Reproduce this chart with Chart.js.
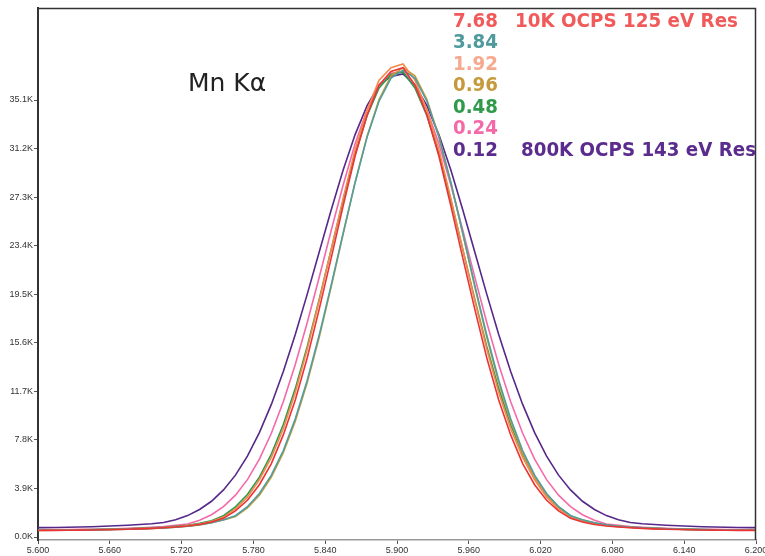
<!DOCTYPE html>
<html><head><meta charset="utf-8">
<script src="https://cdn.jsdelivr.net/npm/chart.js@4.4.1/dist/chart.umd.min.js"></script>
<style>html,body{margin:0;padding:0;background:#fff;}#wrap{width:765px;height:556px;}</style>
</head><body><div id="wrap"><canvas id="c" width="765" height="556"></canvas></div>
<script>
// Energy channels (keV)
const energies = [5.595,5.605,5.615,5.625,5.635,5.645,5.655,5.665,5.675,5.685,5.695,5.705,5.715,5.725,5.735,5.745,5.755,5.765,5.775,5.785,5.795,5.805,5.815,5.825,5.835,5.845,5.855,5.865,5.875,5.885,5.895,5.905,5.915,5.925,5.935,5.945,5.955,5.965,5.975,5.985,5.995,6.005,6.015,6.025,6.035,6.045,6.055,6.065,6.075,6.085,6.095,6.105,6.115,6.125,6.135,6.145,6.155,6.165,6.175,6.185,6.195,6.205];

// Counts (thousands) per series
const counts768 = [0.52,0.53,0.53,0.54,0.55,0.56,0.58,0.6,0.62,0.65,0.69,0.74,0.8,0.88,1.0,1.2,1.5,2.1,2.95,4.2,5.9,8.2,11.0,14.4,18.3,22.4,26.6,30.6,33.9,36.3,37.4,
  37.7,36.3,33.9,30.6,26.6,22.4,18.3,14.4,11.0,8.2,5.9,4.2,2.95,2.1,1.5,1.2,1.0,0.88,0.8,0.74,0.69,0.65,0.62,0.6,0.58,0.56,0.55,0.54,0.53,0.53,0.52];
const counts384 = [0.54,0.54,0.545,0.555,0.565,0.575,0.59,0.61,0.63,0.655,0.69,0.73,0.79,0.87,0.98,1.15,1.38,1.71,2.43,3.49,4.97,6.95,9.49,12.6,16.22,20.23,24.41,28.48,32.12,35.0,36.86,
  37.5,36.86,35.0,32.12,28.48,24.41,20.23,16.22,12.6,9.49,6.95,4.97,3.49,2.43,1.71,1.38,1.15,0.98,0.87,0.79,0.73,0.69,0.655,0.63,0.61,0.59,0.575,0.565,0.555,0.545,0.54];
const counts192 = [0.54,0.54,0.55,0.56,0.57,0.58,0.6,0.62,0.64,0.67,0.71,0.76,0.83,0.92,1.05,1.25,1.6,2.25,3.2,4.6,6.4,8.7,11.6,15.1,19.0,23.1,27.2,31.1,34.3,36.7,37.7,
  38.0,36.7,34.3,31.1,27.2,23.1,19.0,15.1,11.6,8.7,6.4,4.6,3.2,2.25,1.6,1.25,1.05,0.92,0.83,0.76,0.71,0.67,0.64,0.62,0.6,0.58,0.57,0.56,0.55,0.54,0.54];
const counts096 = [0.53,0.535,0.54,0.55,0.56,0.57,0.585,0.6,0.62,0.65,0.68,0.72,0.78,0.86,0.97,1.14,1.36,1.64,2.34,3.36,4.82,6.77,9.3,12.41,16.05,20.1,24.34,28.48,32.19,35.14,37.05,
  37.7,37.05,35.14,32.19,28.48,24.34,20.1,16.05,12.41,9.3,6.77,4.82,3.36,2.34,1.64,1.36,1.14,0.97,0.86,0.78,0.72,0.68,0.65,0.62,0.6,0.585,0.57,0.56,0.55,0.54,0.535];
const counts048 = [0.55,0.55,0.56,0.57,0.58,0.59,0.61,0.63,0.66,0.69,0.73,0.78,0.86,0.95,1.1,1.3,1.71,2.42,3.42,4.81,6.66,9.03,11.92,15.31,19.09,23.08,27.06,30.75,33.84,36.07,37.15,
  37.35,36.07,33.84,30.75,27.06,23.08,19.09,15.31,11.92,9.03,6.66,4.81,3.42,2.42,1.71,1.3,1.1,0.95,0.86,0.78,0.73,0.69,0.66,0.63,0.61,0.59,0.58,0.57,0.56,0.55,0.55];
const counts024 = [0.58,0.58,0.59,0.6,0.61,0.62,0.64,0.66,0.69,0.73,0.78,0.85,0.95,1.04,1.34,1.79,2.44,3.36,4.61,6.25,8.33,10.87,13.85,17.23,20.87,24.62,28.27,31.59,34.33,36.3,37.25,
  37.4,36.3,34.33,31.59,28.27,24.62,20.87,17.23,13.85,10.87,8.33,6.25,4.61,3.36,2.44,1.79,1.34,1.04,0.95,0.85,0.78,0.73,0.69,0.66,0.64,0.62,0.61,0.6,0.59,0.58,0.58];
const counts012 = [0.75,0.75,0.76,0.78,0.8,0.83,0.86,0.9,0.95,1.0,1.06,1.16,1.39,1.72,2.21,2.87,3.78,4.97,6.5,8.38,10.65,13.3,16.27,19.51,22.89,26.27,29.47,32.32,34.65,36.29,37.0,
  37.2,36.29,34.65,32.32,29.47,26.27,22.89,19.51,16.27,13.3,10.65,8.38,6.5,4.97,3.78,2.87,2.21,1.72,1.39,1.16,1.06,1.0,0.95,0.9,0.86,0.83,0.8,0.78,0.76,0.75,0.75];

const seriesRates = ['7.68','3.84','1.92','0.96','0.48','0.24','0.12'];
const seriesNotes = ['10K OCPS 125 eV Res','','','','','','800K OCPS 143 eV Res'];
const seriesCounts = [counts768,counts384,counts192,counts096,counts048,counts024,counts012];
const lineColors = ['#ec3434','#4f9ea2','#f5894c','#c99b3a','#2c9a4a','#f46aa9','#55288a'];
const textColors = ['#f05a5a','#4e9a9c','#f6a98e','#c69a3c','#2f9a4a','#f46aa9','#5b2c8e'];
const yTickValues = [0,3.9,7.8,11.7,15.6,19.5,23.4,27.3,31.2,35.1];
const xTickValues = [5.6,5.66,5.72,5.78,5.84,5.9,5.96,6.02,6.08,6.14,6.2];
const peakLabel = 'Mn K\u03b1';

const datasets = seriesCounts.map((arr, i) => ({
  label: seriesRates[i],
  data: energies.map((e, j) => ({x: e, y: arr[j]})),
  borderColor: lineColors[i],
  borderWidth: 1.6,
  pointRadius: 0,
  tension: 0,
  fill: false
}));

const overlay = {
  id: 'overlay',
  afterDraw(chart) {
    const ctx = chart.ctx, a = chart.chartArea;
    ctx.save();
    ctx.strokeStyle = '#333';
    ctx.lineWidth = 1.5;
    ctx.beginPath();
    ctx.moveTo(a.left, a.top + 0.5);
    ctx.lineTo(a.right - 0.5, a.top + 0.5);
    ctx.lineTo(a.right - 0.5, a.bottom);
    ctx.stroke();
    ctx.fillStyle = '#222';
    ctx.font = '25px "DejaVu Sans"';
    ctx.textBaseline = 'alphabetic';
    ctx.textAlign = 'left';
    ctx.fillText(peakLabel, 188, 91, 82);
    ctx.font = 'bold 20px "DejaVu Sans"';
    ctx.textBaseline = 'middle';
    seriesRates.forEach((r, i) => {
      const y = 21.5 + i * 21.5;
      ctx.fillStyle = textColors[i];
      ctx.fillText(r, 453, y, 45);
      if (seriesNotes[i]) {
        const nx = i === 0 ? 515 : 521;
        const w = i === 0 ? 223 : 235;
        ctx.fillText(seriesNotes[i], nx, y, w);
      }
    });
    ctx.restore();
  }
};

new Chart(document.getElementById('c'), {
  type: 'line',
  data: {datasets},
  options: {
    responsive: false,
    animation: false,
    devicePixelRatio: 1,
    layout: {padding: {left: 0, right: 9, top: 8, bottom: 0}},
    plugins: {legend: {display: false}, tooltip: {enabled: false}},
    scales: {
      x: {
        type: 'linear', min: 5.6, max: 6.2,
        afterBuildTicks: s => { s.ticks = xTickValues.map(v => ({value: v})); },
        afterFit: s => { s.height = 16; s.paddingLeft = 0; s.paddingRight = 0; },
        ticks: {callback: v => Number(v).toFixed(3), font: {family: 'Liberation Sans', size: 9}, color: '#333', maxRotation: 0, autoSkip: false, padding: 1},
        grid: {display: true, drawOnChartArea: false, tickLength: 4, color: '#555'},
        border: {color: '#999', width: 1.5}
      },
      y: {
        type: 'linear', min: -0.24, max: 42.49,
        afterBuildTicks: s => { s.ticks = yTickValues.map(v => ({value: v})); },
        afterFit: s => { s.width = 38; },
        ticks: {callback: v => Number(v).toFixed(1) + 'K', font: {family: 'Liberation Sans', size: 9}, color: '#333', padding: 1},
        grid: {display: true, drawOnChartArea: false, tickLength: 4, color: '#555'},
        border: {color: '#333', width: 2}
      }
    }
  },
  plugins: [overlay]
});
</script></body></html>
